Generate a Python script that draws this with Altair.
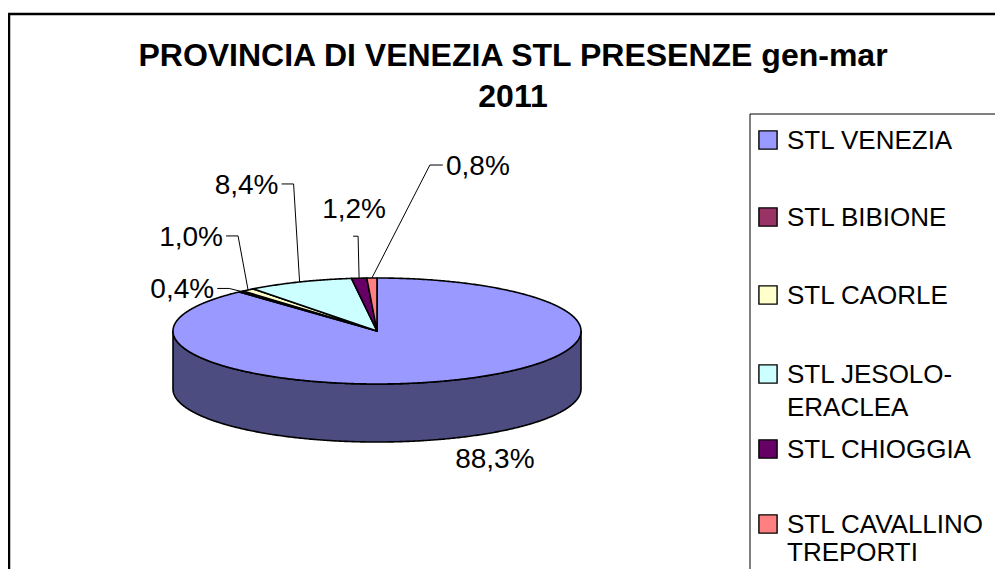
import math
import altair as alt
import pandas as pd

# ---------------- data ----------------
categories = ["STL VENEZIA", "STL BIBIONE", "STL CAORLE",
              "STL JESOLO-ERACLEA", "STL CHIOGGIA", "STL CAVALLINO TREPORTI"]
legend_labels = ["STL VENEZIA", "STL BIBIONE", "STL CAORLE",
                 "STL JESOLO-\nERACLEA", "STL CHIOGGIA", "STL CAVALLINO\nTREPORTI"]
shares = [88.3, 0.4, 1.0, 8.4, 1.2, 0.8]
colors = ["#9999FF", "#993366", "#FFFFCC", "#CCFFFF", "#660066", "#FF8080"]
title_lines = ["PROVINCIA DI VENEZIA STL PRESENZE gen-mar", "2011"]

# ---------------- layout (page pixels) ----------------
CX, CY, RX, RY, DEPTH = 377, 331, 204, 53, 58
label_offsets = [(44, 88), (-59, 7), (-57, -44), (-53, -88), (-5, -60), (106, -103)]
leader_modes = [None, "left", "left", "left", "below", "right"]
legend_centers = [140, 217, 295, 374, 449, 524]
legend_line_h = [33, 33, 33, 33, 33, 28]
LEG_SQ_X, LEG_TXT_X = 768, 787
FONT = "Liberation Sans"


def darken(hexcol, f=0.5):
    r, g, b = (int(hexcol[i:i + 2], 16) for i in (1, 3, 5))
    return "#%02X%02X%02X" % (round(r * f), round(g * f), round(b * f))


def ell(theta, dy=0.0):
    t = math.radians(theta)
    return [CX + RX * math.sin(t), CY - RY * math.cos(t) + dy]


def arc(a0, a1, dy=0.0, step=0.5):
    n = max(2, int(math.ceil((a1 - a0) / step)) + 1)
    return [ell(a0 + (a1 - a0) * i / (n - 1), dy) for i in range(n)]


total = sum(shares)
starts, ends, acc = [], [], 0.0
for v in shares:
    starts.append(acc / total * 360.0)
    acc += v
    ends.append(acc / total * 360.0)

# top faces
slice_feats = []
for name, a0, a1 in zip(categories, starts, ends):
    ring = [[CX, CY]] + arc(a0, a1) + [[CX, CY]]
    slice_feats.append({"type": "Feature", "properties": {"name": name},
                        "geometry": {"type": "Polygon", "coordinates": [ring]}})

# visible side walls (front half: 90..270 degrees)
side_names = [c + " side" for c in categories]
side_colors = [darken(c) for c in colors]
side_feats = []
for name, a0, a1 in zip(side_names, starts, ends):
    lo, hi = max(a0, 90.0), min(a1, 270.0)
    if hi > lo:
        ring = arc(lo, hi) + arc(lo, hi, DEPTH)[::-1]
        ring.append(ring[0])
        side_feats.append({"type": "Feature", "properties": {"name": name},
                           "geometry": {"type": "Polygon", "coordinates": [ring]}})

# labels and leaders
lab_rows, leader_feats = [], []
for i, (v, a0, a1) in enumerate(zip(shares, starts, ends)):
    ex, ey = ell((a0 + a1) / 2)
    dx, dy = label_offsets[i]
    lx, ly = ex + dx, ey + dy
    txt = f"{v:.1f}".replace(".", ",") + "%"
    lab_rows.append({"x": lx, "y": ly, "t": txt})
    hw = 31
    mode = leader_modes[i]
    if mode == "left":
        pts = [[lx + hw + 4, ly - 10], [lx + hw + 16, ly - 10], [ex, ey]]
    elif mode == "right":
        pts = [[lx - hw - 4, ly - 10], [lx - hw - 17, ly - 10], [ex, ey]]
    elif mode == "below":
        pts = [[lx - 1, ly + 18], [lx + 4, ly + 18], [ex, ey]]
    else:
        continue
    leader_feats.append({"type": "Feature", "properties": {"name": txt},
                         "geometry": {"type": "LineString", "coordinates": pts}})

frame_feats = [
    {"type": "Feature", "properties": {"name": "frame"},
     "geometry": {"type": "LineString", "coordinates": [[9, 700], [9, 14], [1100, 14]]}}]
legbox_feats = [
    {"type": "Feature", "properties": {"name": "legend"},
     "geometry": {"type": "LineString", "coordinates": [[750, 700], [750, 114], [1100, 114]]}}]

proj = dict(type="identity", scale=1, translate=[-8, -8])

frame = alt.Chart(alt.Data(values=frame_feats)).mark_geoshape(
    filled=False, stroke="black", strokeWidth=2.5).project(**proj)
legbox = alt.Chart(alt.Data(values=legbox_feats)).mark_geoshape(
    filled=False, stroke="black", strokeWidth=1).project(**proj)

side = alt.Chart(alt.Data(values=side_feats)).mark_geoshape(
    stroke="black", strokeWidth=1.6, strokeJoin="round").encode(
    fill=alt.Fill("properties.name:N",
                  scale=alt.Scale(domain=side_names, range=side_colors), legend=None)
).project(**proj)

top = alt.Chart(alt.Data(values=slice_feats)).mark_geoshape(
    stroke="black", strokeWidth=1.6, strokeJoin="round").encode(
    fill=alt.Fill("properties.name:N",
                  scale=alt.Scale(domain=categories, range=colors), legend=None)
).project(**proj)

leaders = alt.Chart(alt.Data(values=leader_feats)).mark_geoshape(
    filled=False, stroke="black", strokeWidth=1).project(**proj)

labels = alt.Chart(pd.DataFrame(lab_rows)).mark_text(
    font=FONT, fontSize=28, align="center", baseline="alphabetic", color="black"
).encode(longitude="x:Q", latitude="y:Q", text="t:N").project(**proj)

title_df = pd.DataFrame({"x": [513, 513], "y": [66, 107], "t": title_lines})
title = alt.Chart(title_df).mark_text(
    font=FONT, fontSize=32, fontWeight="bold", align="center",
    baseline="alphabetic", color="black"
).encode(longitude="x:Q", latitude="y:Q", text="t:N").project(**proj)

leg_df = pd.DataFrame({"name": categories, "label": legend_labels,
                       "sx": [LEG_SQ_X] * 6, "tx": [LEG_TXT_X] * 6,
                       "cy": legend_centers, "lh": legend_line_h,
                       "ty": [c + 9 for c in legend_centers]})
leg_sq = alt.Chart(leg_df).mark_square(
    size=330, filled=True, stroke="black", strokeWidth=1.4, opacity=1).encode(
    longitude="sx:Q", latitude="cy:Q",
    fill=alt.Fill("name:N", scale=alt.Scale(domain=categories, range=colors), legend=None)
).project(**proj)


def leg_text(lh):
    return alt.Chart(leg_df).transform_filter(
        alt.datum.lh == lh
    ).mark_text(
        font=FONT, fontSize=26, align="left", baseline="alphabetic",
        lineBreak="\n", lineHeight=lh, color="black"
    ).encode(longitude="tx:Q", latitude="ty:Q", text="label:N").project(**proj)


leg_txt_layers = [leg_text(lh) for lh in sorted(set(legend_line_h))]

chart = alt.layer(frame, legbox, side, top, leaders, labels, title, leg_sq,
                  *leg_txt_layers).resolve_scale(
    fill="independent"
).properties(
    width=987, height=561, padding=0,
    autosize=alt.AutoSizeParams(type="none"),
    background="white",
).configure_view(stroke=None)

chart.save("out.html", embed_options={"renderer": "svg", "actions": False})
